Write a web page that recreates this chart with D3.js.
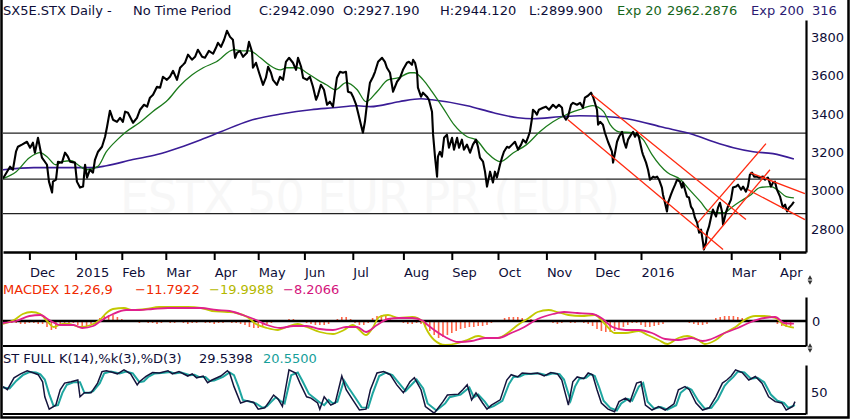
<!DOCTYPE html>
<html lang="en">
  <head>
    <meta charset="UTF-8" />
    <title>SX5E.STX Daily</title>

    <script src="https://d3js.org/d3.v7.min.js"></script>

    <style>
      body { margin: 0; background: #fff; }
      text { font-family: "DejaVu Sans", sans-serif; font-size: 13px; }
    </style>
  </head>

  <body>
    <svg width="850" height="420"></svg>

    <script>
      //Month ticks, as trading-session index from the left edge
      const tickDays = [12, 33, 54, 74, 96, 116, 137, 159, 182, 204, 225, 247, 269, 290, 331, 353];
      const tickLabels = ["Dec", "2015", "Feb", "Mar", "Apr", "May", "Jun", "Jul", "Aug", "Sep", "Oct", "Nov", "Dec", "2016", "Mar", "Apr"];
      const priceTicks = [2800, 3000, 3200, 3400, 3600, 3800];

      //Header texts
      const headerParts = ["SX5E.STX Daily -", "No Time Period", "C:2942.090", "O:2927.190", "H:2944.120", "L:2899.900", "Exp 20", "2962.2876", "Exp 200", "316"];
      const macdParts = ["MACDEX 12,26,9", "\u221211.7922", "\u221219.9988", "\u22128.2066"];
      const stochParts = ["ST FULL K(14),%k(3),%D(3)", "29.5398", "20.5500"];
      const watermark = "ESTX 50 EUR PR (EUR)";

      //Close prices [session, value]
      const closes = [
        [0,3063],[3.2,3125],[4.5,3109],[5.9,3203],[6.8,3229],[8.6,3240],[10.9,3255],[12.3,3224],[13.6,3250],[14.5,3198],
        [15.9,3276],[16.8,3224],[17.7,3172],[20,3135],[20.9,3047],[22.3,2990],[22.7,3047],[24.1,3057],[25,3151],[26.8,3146],
        [28.2,3198],[29.5,3177],[30.5,3151],[32.7,3146],[33.6,3047],[35,3016],[36.4,3021],[37.3,3135],[38.2,3068],[39.5,3109],
        [40.9,3094],[41.8,3161],[43.2,3203],[45,3229],[46.4,3281],[47.3,3333],[48.6,3417],[50,3370],[51.8,3359],[53.2,3380],
        [54.5,3359],[55.5,3412],[56.8,3406],[59.1,3354],[60.9,3380],[62.3,3422],[64.1,3448],[65.5,3438],[66.8,3485],[68.2,3500],
        [70,3542],[71.4,3537],[72.7,3594],[74.5,3578],[75.9,3594],[77.3,3625],[79.1,3578],[80.5,3641],[81.8,3656],[82.7,3667],
        [84.1,3709],[85.9,3683],[87.3,3698],[88.6,3735],[90.5,3698],[91.8,3693],[93.6,3729],[95.5,3714],[96.8,3745],[97.7,3771],
        [99.1,3750],[100.5,3787],[101.8,3834],[103.2,3802],[104.5,3787],[105.5,3693],[106.4,3719],[107.7,3729],[109.1,3698],[110.9,3719],
        [111.8,3776],[113.2,3724],[113.6,3641],[115,3667],[116.4,3615],[118.2,3552],[119.5,3589],[120.5,3646],[121.8,3615],[122.7,3578],
        [124.5,3552],[125.9,3594],[127.3,3578],[128.6,3672],[130,3693],[131.8,3667],[133.2,3630],[134.1,3693],[135.5,3646],[136.4,3589],
        [138.2,3578],[139.5,3594],[140.9,3542],[142.3,3474],[143.2,3500],[144.5,3552],[145.9,3526],[147.3,3448],[148.6,3464],[150,3438],
        [150.9,3516],[151.8,3589],[153.2,3620],[154.5,3615],[155.9,3620],[156.8,3516],[158.2,3511],[159.1,3490],[160.5,3448],[161.4,3406],
        [162.7,3344],[163.6,3302],[164.5,3359],[165.5,3458],[166.8,3563],[168.2,3594],[169.1,3620],[170.5,3672],[172.3,3693],[173.6,3672],
        [174.5,3641],[175.9,3615],[177.3,3516],[179.1,3568],[180.5,3589],[181.8,3630],[183.6,3667],[184.5,3672],[185.9,3656],[186.4,3682],
        [187.3,3667],[188.2,3620],[188.6,3537],[190,3490],[190.9,3511],[192.7,3490],[193.6,3474],[195,3412],[195.5,3292],[196.4,3172],
        [197.3,3073],[197.7,3177],[198.6,3203],[199.5,3177],[200.5,3276],[201.8,3292],[202.7,3224],[204.1,3276],[205,3214],[206.4,3276],
        [207.3,3224],[208.6,3266],[209.5,3214],[210.9,3240],[212.3,3198],[213.6,3240],[215,3266],[215.9,3229],[216.8,3172],[218.2,3151],
        [219.1,3099],[220,3021],[221.4,3099],[222.7,3042],[223.6,3099],[224.5,3068],[225.9,3135],[226.8,3172],[227.7,3203],[229.1,3229],
        [230,3224],[231.4,3240],[232.7,3255],[234.1,3214],[235.5,3240],[236.4,3266],[237.7,3250],[238.6,3276],[239.5,3307],[240.5,3380],
        [240.9,3422],[241.8,3412],[242.7,3396],[243.6,3422],[245.5,3432],[246.8,3438],[248.2,3422],[250,3448],[251.4,3432],[252.7,3448],
        [254.1,3432],[254.5,3396],[255.9,3370],[256.8,3385],[258.2,3448],[259.1,3458],[260.9,3448],[262.3,3458],[263.6,3432],[264.5,3485],
        [265.9,3495],[267.3,3511],[268.2,3490],[270,3422],[270.5,3344],[271.4,3359],[272.7,3344],[273.6,3302],[275,3255],[276.8,3203],
        [277.3,3146],[278.2,3198],[279.1,3255],[280,3281],[281.4,3307],[282.3,3255],[283.2,3224],[284.1,3266],[285.5,3292],[286.4,3307],
        [287.3,3281],[288.2,3302],[289.1,3276],[290.5,3203],[290.9,3188],[292.3,3146],[293.2,3109],[294.1,3057],[295.5,3073],[296.4,3068],
        [297.3,3073],[298.2,3057],[299.5,3016],[300,2979],[300.9,2937],[301.8,2891],[302.3,2937],[303.6,2979],[304.5,3005],[305.5,3031],
        [306.4,3057],[307.7,3047],[308.6,3016],[309.1,3042],[310,3005],[310.9,2969],[311.8,2964],[312.7,2917],[313.6,2901],[314.5,2859],
        [315.5,2833],[316.4,2781],[317.3,2797],[318.2,2729],[318.6,2693],[319.5,2729],[320,2781],[320.9,2812],[322.3,2885],[322.7,2901],
        [324.1,2865],[325,2911],[325.9,2937],[326.8,2891],[327.3,2823],[328.6,2885],[329.5,2917],[330.9,2953],[331.8,3016],[333.2,3021],
        [334.1,3031],[335.5,3005],[336.4,3021],[337.7,2995],[338.6,3021],[339.5,3083],[340.5,3094],[341.4,3073],[342.7,3073],[343.6,3068],
        [345.5,3073],[346.4,3057],[347.7,3068],[349.1,3021],[350,3042],[350.9,3047],[351.8,3005],[353.2,2969],[354.5,2911],[355.5,2927],
        [356.4,2891],[357.3,2911],[358.6,2927],[359.5,2942]
      ];

      //Exponential averages [session, value]
      const ema20 = [
        [0,3063],[6,3099],[12,3172],[17,3198],[20,3177],[24,3135],[27,3151],[31,3156],[34,3135],[38,3109],
        [43,3125],[47,3203],[52,3266],[56,3307],[62,3354],[68,3412],[75,3474],[80,3542],[86,3604],[91,3641],
        [97,3672],[105,3735],[109,3729],[112,3729],[117,3693],[121,3656],[126,3630],[129,3641],[134,3641],[138,3615],
        [143,3578],[147,3552],[151,3526],[156,3563],[161,3526],[165,3464],[170,3516],[175,3578],[180,3589],[185,3615],
        [187,3615],[191,3578],[195,3516],[200,3432],[205,3344],[211,3281],[215,3266],[220,3198],[226,3151],[232,3198],
        [238,3240],[244,3307],[250,3359],[256,3396],[262,3422],[268,3443],[273,3412],[276,3344],[280,3307],[286,3302],
        [291,3266],[295,3188],[302,3094],[308,3057],[312,3005],[317,2943],[321,2891],[325,2885],[328,2885],[331,2911],
        [335,2943],[340,2979],[344,3016],[349,3021],[352,3005],[356,2969],[359.5,2962]
      ];
      const ema200 = [
        [0,3109],[14,3120],[29,3120],[41,3120],[47,3130],[59,3162],[70,3188],[80,3224],[90,3266],[99,3307],
        [112,3365],[127,3401],[140,3422],[150,3432],[161,3443],[167,3438],[180,3464],[190,3479],[195,3474],[211,3443],
        [223,3406],[234,3380],[241,3375],[253,3385],[262,3391],[275,3385],[286,3370],[299,3333],[314,3292],[323,3255],
        [332,3224],[341,3203],[350,3193],[359.5,3165]
      ];

      //Support / resistance levels and trend lines [s1, v1, s2, v2]
      const levels = [3300, 3060, 2880];
      const trendLines = [
        [267.7, 3500, 337.7, 2849],
        [256.8, 3370, 327.3, 2693],
        [318.2, 2693, 348.6, 3109],
        [315.9, 2833, 346.8, 3245],
        [339.5, 3094, 364.5, 2984],
        [338.6, 3005, 364.5, 2849]
      ];

      //MACD line and signal [session, value]
      const macd = [
        [0,-9],[5,3],[9,21],[13,27],[17,21],[20,0],[23,-18],[27,-9],[30,-9],[35,-18],
        [40,-12],[44,3],[47,24],[50,36],[55,39],[59,33],[65,36],[71,42],[77,42],[84,42],
        [90,39],[95,30],[102,27],[106,24],[111,12],[115,-9],[120,-21],[125,-27],[129,-18],[134,-9],
        [138,-18],[144,-33],[150,-39],[155,-27],[159,-12],[162,-27],[165,-42],[168,-21],[171,12],[175,18],
        [180,9],[186,12],[191,-3],[192,-18],[196,-57],[201,-72],[207,-66],[211,-57],[216,-45],[220,-51],
        [225,-51],[230,-33],[234,-12],[239,9],[243,27],[248,33],[252,27],[257,18],[263,15],[269,18],
        [274,-12],[278,-36],[283,-36],[289,-30],[293,-42],[298,-57],[302,-69],[307,-51],[311,-45],[316,-57],
        [319,-69],[324,-57],[328,-36],[333,-18],[337,3],[342,15],[346,15],[351,9],[355,-12],[359.5,-20]
      ];
      const signal = [
        [0,-6],[6,0],[12,15],[17,18],[21,3],[26,-12],[32,-12],[36,-21],[41,-15],[45,3],
        [50,21],[56,33],[62,33],[68,36],[75,39],[82,39],[90,39],[97,33],[103,30],[109,18],
        [114,6],[120,-12],[126,-21],[132,-15],[138,-15],[144,-24],[150,-27],[156,-18],[161,-18],[165,-33],
        [170,-12],[175,6],[180,9],[186,9],[191,0],[192,-6],[196,-27],[201,-48],[207,-63],[213,-60],
        [219,-51],[225,-51],[231,-36],[237,-18],[243,6],[250,21],[255,27],[261,24],[268,21],[272,9],
        [277,-18],[283,-27],[289,-27],[295,-36],[301,-54],[307,-57],[313,-51],[318,-60],[322,-54],[328,-36],
        [334,-21],[340,-3],[346,9],[351,12],[355,-6],[359.5,-8]
      ];
      //MACD histogram, one bar every 2 sessions from session 0
      const histStep = 2;
      const hist = [
        3,0,-6,-6,-9,-9,-6,-6,-9,-9,
        -18,-27,-24,-15,-6,-6,-6,-12,-15,-15,
        -9,0,9,15,18,18,12,6,3,0,
        -3,-6,-3,-6,-6,-9,-6,-3,-6,-6,
        -3,-6,-9,-6,-6,-3,-6,-6,-9,-6,
        -6,-3,-6,-6,-9,-12,-18,-21,-21,-15,
        -9,-6,-3,0,3,6,6,3,-3,-6,
        -9,-12,-12,-12,-9,-3,6,12,12,6,
        -6,-12,-12,-6,9,15,18,15,9,0,
        -3,-6,-9,-9,-6,-9,-18,-30,-42,-51,
        -48,-42,-36,-30,-24,-21,-18,-18,-15,-15,
        -12,-6,0,3,9,12,12,12,9,6,
        6,3,3,0,-3,-6,-9,-6,-3,-6,
        -6,-3,-6,-9,-15,-24,-30,-33,-33,-30,
        -24,-18,-12,-6,-6,-12,-18,-18,-15,-12,
        -9,-3,0,3,-3,-3,-6,-9,-12,-12,
        -9,3,9,12,15,15,15,12,9,6,
        3,0,-3,-3,3,0,-9,-15,-18,-15
      ];

      //Full stochastic %K and %D [session, value]
      const stochK = [
        [0,62],[2,55],[5,82],[8,91],[11,98],[14,93],[16,89],[18,73],[19,39],[21,11],
        [24,20],[26,55],[28,70],[31,73],[34,77],[35,39],[37,48],[40,48],[43,70],[45,96],
        [47,98],[50,94],[52,91],[55,100],[58,91],[61,66],[62,73],[65,85],[68,94],[71,93],
        [75,98],[77,91],[80,96],[84,86],[86,91],[88,82],[91,86],[93,71],[95,77],[99,86],
        [102,98],[103,93],[105,62],[108,25],[111,30],[114,26],[116,11],[119,14],[121,28],[123,43],
        [125,34],[127,17],[130,100],[133,93],[135,70],[138,39],[140,36],[143,25],[144,11],[146,39],
        [149,20],[151,25],[154,86],[156,55],[159,32],[162,9],[165,11],[167,55],[170,93],[173,96],
        [176,89],[179,66],[182,48],[185,73],[187,82],[190,55],[192,17],[196,2],[200,28],[202,43],
        [207,45],[209,55],[211,66],[213,32],[215,48],[218,25],[220,11],[222,20],[226,32],[229,77],
        [231,89],[234,84],[236,93],[240,91],[243,93],[246,86],[249,94],[252,91],[254,77],[257,20],
        [259,73],[261,84],[264,80],[266,93],[268,89],[270,55],[272,25],[275,11],[278,5],[280,28],
        [283,36],[285,28],[288,70],[290,73],[292,20],[295,9],[298,17],[301,9],[305,23],[307,55],
        [310,62],[312,55],[315,25],[318,9],[321,14],[324,39],[327,70],[329,77],[331,86],[333,100],
        [336,94],[339,77],[342,85],[345,70],[348,39],[351,28],[354,25],[356,9],[359,17],[360,28]
      ];
      const stochD = [
        [0,60],[3,58],[6,75],[9,88],[12,95],[15,94],[17,90],[19,78],[21,45],[23,18],
        [25,20],[27,48],[29,66],[32,72],[35,72],[37,48],[39,48],[41,52],[44,70],[46,92],
        [49,96],[51,94],[53,92],[56,96],[59,92],[62,72],[64,74],[66,84],[69,92],[72,93],
        [76,95],[78,92],[81,94],[85,88],[87,89],[89,84],[92,84],[94,75],[96,76],[100,84],
        [103,94],[105,88],[107,62],[109,32],[112,28],[115,24],[118,14],[120,18],[122,28],[124,38],
        [126,30],[128,24],[131,88],[134,94],[136,76],[139,46],[141,38],[144,26],[146,20],[148,32],
        [150,24],[152,28],[155,76],[157,60],[160,38],[163,15],[166,14],[168,46],[171,86],[174,94],
        [177,88],[180,70],[183,52],[186,68],[188,78],[191,58],[193,24],[197,8],[201,24],[203,38],
        [208,44],[210,52],[212,60],[214,38],[216,44],[219,28],[221,14],[223,18],[227,30],[230,68],
        [232,84],[235,85],[237,90],[241,91],[244,92],[247,88],[250,92],[253,90],[255,78],[258,30],
        [260,62],[262,80],[265,82],[267,90],[269,86],[271,60],[273,30],[276,14],[279,8],[281,24],
        [284,34],[286,30],[289,62],[291,70],[293,28],[296,12],[299,16],[302,10],[306,20],[308,48],
        [311,60],[313,55],[316,30],[319,12],[322,14],[325,34],[328,64],[330,75],[332,84],[334,96],
        [337,94],[340,80],[343,82],[346,72],[349,44],[352,30],[355,25],[357,14],[360,20]
      ];

      let svg = d3.select("svg");

      //Scales: one shared session axis, one value axis per panel
      const x = d3.scaleLinear().domain([0, 365]).range([3, 806]);
      const y = d3.scaleLinear().domain([2680, 3890]).range([252, 20]);
      const yMacd = d3.scaleLinear().domain([-75, 72]).range([346, 297]);
      const yStoch = d3.scaleLinear().domain([0, 111]).range([414, 365]);

      const lineOf = (sy, curve) =>
        d3.line().x((d) => x(d[0])).y((d) => sy(d[1])).curve(curve || d3.curveLinear);

      const navy = "#0e0e38";

      svg.append("rect").attr("width", 850).attr("height", 420).attr("fill", "#fff");

      svg.append("clipPath").attr("id", "priceClip")
        .append("rect").attr("x", 3).attr("y", 20).attr("width", 803).attr("height", 232);

      //Faint watermark
      svg.append("text")
        .attr("x", 120).attr("y", 213)
        .attr("textLength", 500).attr("lengthAdjust", "spacing")
        .style("font-size", "46px").attr("fill", "#f7f7f7")
        .text(watermark);

      let price = svg.append("g").attr("clip-path", "url(#priceClip)");

      //Horizontal levels
      price.selectAll("line.level")
        .data(levels).enter().append("line")
        .attr("class", "level")
        .attr("x1", x(0)).attr("x2", x(365))
        .attr("y1", (d) => y(d)).attr("y2", (d) => y(d))
        .attr("stroke", "#222").attr("stroke-width", 1.3);

      price.append("path").datum(ema200)
        .attr("d", lineOf(y, d3.curveMonotoneX))
        .attr("fill", "none").attr("stroke", "#3a1c96").attr("stroke-width", 1.6);

      price.append("path").datum(ema20)
        .attr("d", lineOf(y, d3.curveMonotoneX))
        .attr("fill", "none").attr("stroke", "#1b7a1b").attr("stroke-width", 1.3);

      price.append("path").datum(closes)
        .attr("d", lineOf(y))
        .attr("fill", "none").attr("stroke", "#000")
        .attr("stroke-width", 2.1).attr("stroke-linejoin", "round");

      price.selectAll("line.trend")
        .data(trendLines).enter().append("line")
        .attr("class", "trend")
        .attr("x1", (d) => x(d[0])).attr("y1", (d) => y(d[1]))
        .attr("x2", (d) => x(d[2])).attr("y2", (d) => y(d[3]))
        .attr("stroke", "#ff2a10").attr("stroke-width", 1.3);

      //Price axis on the right
      let yAxis = svg.append("g")
        .attr("transform", "translate(806,0)")
        .call(d3.axisRight(y).tickValues(priceTicks).tickSize(0).tickPadding(5).tickFormat(d3.format("d")));
      yAxis.select(".domain").attr("stroke", "#000").attr("stroke-width", 2.2);
      yAxis.selectAll("text").attr("fill", navy).style("font-size", "13px");

      //Month axis under the price panel
      let xAxis = svg.append("g")
        .attr("transform", "translate(0,252)")
        .call(d3.axisBottom(x).tickValues(tickDays).tickSize(8).tickSizeOuter(0).tickPadding(8)
          .tickFormat((d, i) => tickLabels[i]));
      xAxis.select(".domain").attr("stroke", "#000").attr("stroke-width", 2.4);
      xAxis.selectAll(".tick line").attr("stroke", "#000").attr("stroke-width", 2);
      xAxis.selectAll("text").attr("text-anchor", "start").attr("fill", navy).style("font-size", "13px");

      //Header
      const headerX = [3, 133, 259, 343, 440, 529, 617, 667, 751, 812];
      const headerC = [navy, navy, navy, navy, navy, navy, "#16661a", "#16661a", "#2b1a72", "#2b1a72"];
      svg.selectAll("text.head")
        .data(headerParts).enter().append("text")
        .attr("class", "head")
        .attr("x", (d, i) => headerX[i]).attr("y", 15)
        .attr("fill", (d, i) => headerC[i])
        .text((d) => d);

      //MACD panel
      svg.selectAll("line.hist")
        .data(hist).enter().append("line")
        .attr("class", "hist")
        .attr("x1", (d, i) => x(i * histStep)).attr("x2", (d, i) => x(i * histStep))
        .attr("y1", yMacd(0)).attr("y2", (d) => yMacd(d))
        .attr("stroke", "#ff4a28").attr("stroke-width", 1.6).attr("opacity", 0.85);

      svg.append("line")
        .attr("x1", x(0)).attr("x2", x(365))
        .attr("y1", yMacd(0)).attr("y2", yMacd(0))
        .attr("stroke", "#000").attr("stroke-width", 2.4);

      svg.append("path").datum(macd)
        .attr("d", lineOf(yMacd, d3.curveMonotoneX))
        .attr("fill", "none").attr("stroke", "#c2c800").attr("stroke-width", 1.8);

      svg.append("path").datum(signal)
        .attr("d", lineOf(yMacd, d3.curveMonotoneX))
        .attr("fill", "none").attr("stroke", "#e0208c").attr("stroke-width", 1.8);

      svg.append("line")
        .attr("x1", x(0)).attr("x2", x(365))
        .attr("y1", yMacd(-75)).attr("y2", yMacd(-75))
        .attr("stroke", "#000").attr("stroke-width", 2);

      let macdAxis = svg.append("g")
        .attr("transform", "translate(806,0)")
        .call(d3.axisRight(yMacd).tickValues([0]).tickSize(0).tickPadding(6));
      macdAxis.select(".domain").attr("stroke", "#000").attr("stroke-width", 2.2);
      macdAxis.selectAll("text").attr("fill", navy).style("font-size", "13px");

      const macdX = [3, 135, 209, 283];
      const macdC = ["#f02a00", "#f02a00", "#b4b800", "#d4147c"];
      svg.selectAll("text.macd")
        .data(macdParts).enter().append("text")
        .attr("class", "macd")
        .attr("x", (d, i) => macdX[i]).attr("y", 294)
        .attr("fill", (d, i) => macdC[i])
        .text((d) => d);

      //Stochastic panel
      svg.append("path").datum(stochD)
        .attr("d", lineOf(yStoch))
        .attr("fill", "none").attr("stroke", "#1ea6a0").attr("stroke-width", 2);

      svg.append("path").datum(stochK)
        .attr("d", lineOf(yStoch))
        .attr("fill", "none").attr("stroke", "#14143c").attr("stroke-width", 1.5);

      svg.append("line")
        .attr("x1", x(0)).attr("x2", x(365))
        .attr("y1", yStoch(0)).attr("y2", yStoch(0))
        .attr("stroke", "#000").attr("stroke-width", 2);

      let stochAxis = svg.append("g")
        .attr("transform", "translate(806,0)")
        .call(d3.axisRight(yStoch).tickValues([50]).tickSize(0).tickPadding(5));
      stochAxis.select(".domain").attr("stroke", "#000").attr("stroke-width", 2.2);
      stochAxis.selectAll("text").attr("fill", navy).style("font-size", "13px");

      const stochX = [3, 199, 263];
      const stochC = [navy, navy, "#16a09a"];
      svg.selectAll("text.stoch")
        .data(stochParts).enter().append("text")
        .attr("class", "stoch")
        .attr("x", (d, i) => stochX[i]).attr("y", 363)
        .attr("fill", (d, i) => stochC[i])
        .text((d) => d);

      //Small panel resize markers at the right edge
      [280, 348].forEach(function (cy) {
        svg.append("path").attr("d", d3.symbol(d3.symbolTriangle, 10)())
          .attr("transform", "translate(810," + (cy - 2) + ")").attr("fill", "#333");
        svg.append("path").attr("d", d3.symbol(d3.symbolTriangle, 10)())
          .attr("transform", "translate(810," + (cy + 2) + ") rotate(180)").attr("fill", "#333");
      });

      //Outer frame
      svg.append("path")
        .attr("d", "M1.5,0V417.5H848.5V0")
        .attr("fill", "none").attr("stroke", "#000").attr("stroke-width", 2.5);
    </script>
  </body>
</html>
